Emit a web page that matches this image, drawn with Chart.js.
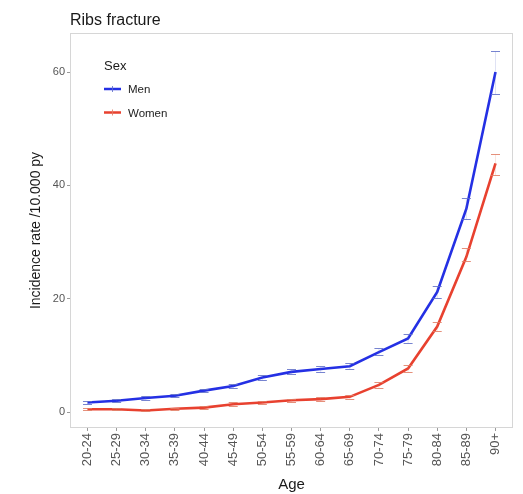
<!DOCTYPE html>
<html>
<head>
<meta charset="utf-8">
<script src="https://cdn.jsdelivr.net/npm/chart.js@4"></script>
<style>
  html, body { margin: 0; padding: 0; background: #fff; }
  canvas { display: block; }
</style>
</head>
<body>
<canvas id="chart" width="523" height="494"></canvas>
<script>
// Age bands and incidence rates per 10,000 person-years, with 95% CI bounds
const ageGroups = ['20-24', '25-29', '30-34', '35-39', '40-44', '45-49', '50-54',
                   '55-59', '60-64', '65-69', '70-74', '75-79', '80-84', '85-89', '90+'];

const menRate  = [1.7, 2.0, 2.5, 2.9, 3.8, 4.6, 6.1, 7.1, 7.6, 8.1, 10.6, 13.0, 21.2, 35.9, 60.0];
const menLower = [1.4, 1.7, 2.2, 2.6, 3.5, 4.2, 5.7, 6.7, 7.1, 7.6, 10.0, 12.2, 20.2, 34.1, 56.1];
const menUpper = [2.0, 2.3, 2.8, 3.2, 4.1, 5.0, 6.5, 7.6, 8.1, 8.6, 11.3, 13.8, 22.3, 37.8, 63.8];

const womenRate  = [0.5, 0.5, 0.3, 0.6, 0.8, 1.4, 1.7, 2.1, 2.3, 2.7, 4.8, 7.7, 15.1, 27.4, 43.9];
const womenLower = [0.3, 0.3, 0.2, 0.4, 0.6, 1.1, 1.4, 1.8, 2.0, 2.4, 4.3, 7.1, 14.4, 26.7, 41.8];
const womenUpper = [0.7, 0.7, 0.5, 0.8, 1.0, 1.7, 2.0, 2.4, 2.6, 3.0, 5.3, 8.3, 15.9, 28.9, 45.6];

const yTickValues = [0, 20, 40, 60];

const FONT = '"Liberation Sans", Arial, Helvetica, sans-serif';
const MEN_COLOR = '#2430e4';
const WOMEN_COLOR = '#e8412f';

const toPoints = values => values.map((v, i) => ({ x: i, y: v }));

// Confidence-interval caps with a faint vertical stem
const errorBars = {
  id: 'errorBars',
  afterDatasetsDraw(chart) {
    const { ctx, scales: { x, y } } = chart;
    chart.data.datasets.forEach(ds => {
      ctx.save();
      ctx.lineWidth = 1;
      ds.lower.forEach((lo, i) => {
        const px = x.getPixelForValue(i);
        const pLo = Math.round(y.getPixelForValue(lo)) + 0.5;
        const pHi = Math.round(y.getPixelForValue(ds.upper[i])) + 0.5;
        ctx.strokeStyle = ds.stemColor;
        ctx.beginPath();
        ctx.moveTo(px, pLo); ctx.lineTo(px, pHi);
        ctx.stroke();
        ctx.strokeStyle = ds.capColor;
        ctx.beginPath();
        ctx.moveTo(px - 4.5, pLo); ctx.lineTo(px + 4.5, pLo);
        ctx.moveTo(px - 4.5, pHi); ctx.lineTo(px + 4.5, pHi);
        ctx.stroke();
      });
      ctx.restore();
    });
  }
};

// Panel frame, plot title and the inset legend
const panel = {
  id: 'panel',
  beforeDraw(chart) {
    const { ctx, width, height } = chart;
    ctx.save();
    ctx.fillStyle = '#ffffff';
    ctx.fillRect(0, 0, width, height);
    ctx.restore();
  },
  beforeDatasetsDraw(chart) {
    const { ctx, chartArea: a } = chart;
    ctx.save();
    ctx.strokeStyle = '#d6d6d6';
    ctx.lineWidth = 1;
    ctx.strokeRect(a.left + 0.5, a.top + 0.5, a.right - a.left - 1, a.bottom - a.top - 1);
    ctx.restore();
  },
  afterDraw(chart) {
    const { ctx, chartArea: a } = chart;
    ctx.save();
    ctx.fillStyle = '#1a1a1a';
    ctx.textBaseline = 'alphabetic';
    ctx.textAlign = 'left';
    ctx.font = '16px ' + FONT;
    ctx.fillText('Ribs fracture', a.left, 25);

    // legend
    ctx.font = '13px ' + FONT;
    ctx.fillText('Sex', 104, 70);
    ctx.font = '11.5px ' + FONT;
    ctx.textBaseline = 'middle';
    chart.data.datasets.forEach((ds, i) => {
      const ly = 89 + i * 23.5;
      ctx.strokeStyle = ds.borderColor;
      ctx.lineWidth = 2.5;
      ctx.beginPath();
      ctx.moveTo(104, ly); ctx.lineTo(121, ly);
      ctx.stroke();
      ctx.strokeStyle = ds.capColor;
      ctx.lineWidth = 1;
      ctx.beginPath();
      ctx.moveTo(112.5, ly - 3); ctx.lineTo(112.5, ly + 3);
      ctx.stroke();
      ctx.fillStyle = '#222';
      ctx.fillText(ds.label, 128, ly + 1);
    });
    ctx.restore();
  }
};

const tickGrid = { drawOnChartArea: false, drawTicks: true, tickLength: 3, color: '#9a9a9a' };

new Chart(document.getElementById('chart'), {
  type: 'line',
  data: {
    datasets: [
      {
        label: 'Men',
        data: toPoints(menRate),
        lower: menLower,
        upper: menUpper,
        borderColor: MEN_COLOR,
        capColor: 'rgba(95, 110, 200, 0.85)',
        stemColor: 'rgba(95, 110, 200, 0.2)',
        borderWidth: 2.6,
        pointRadius: 0,
        tension: 0
      },
      {
        label: 'Women',
        data: toPoints(womenRate),
        lower: womenLower,
        upper: womenUpper,
        borderColor: WOMEN_COLOR,
        capColor: 'rgba(225, 125, 100, 0.85)',
        stemColor: 'rgba(225, 125, 100, 0.2)',
        borderWidth: 2.6,
        pointRadius: 0,
        tension: 0
      }
    ]
  },
  options: {
    responsive: false,
    animation: false,
    layout: { padding: { top: 33, right: 10, left: 0, bottom: 0 } },
    plugins: {
      legend: { display: false },
      tooltip: { enabled: false },
      title: { display: false }
    },
    scales: {
      x: {
        type: 'linear',
        min: -0.6,
        max: 14.6,
        afterBuildTicks: s => { s.ticks = ageGroups.map((_, i) => ({ value: i })); },
        afterFit: s => { s.height = 66; },
        grid: tickGrid,
        border: { display: false },
        ticks: {
          autoSkip: false,
          minRotation: 90,
          maxRotation: 90,
          padding: 2,
          color: '#555',
          font: { size: 13, family: FONT },
          callback: v => ageGroups[v]
        },
        title: {
          display: true,
          text: 'Age',
          color: '#1a1a1a',
          font: { size: 15, family: FONT },
          padding: { top: 0, bottom: 0 }
        }
      },
      y: {
        min: -2.8,
        max: 66.9,
        afterBuildTicks: s => { s.ticks = yTickValues.map(v => ({ value: v })); },
        afterFit: s => { s.width = 70; },
        grid: tickGrid,
        border: { display: false },
        ticks: {
          padding: 2,
          color: '#555',
          font: { size: 11, family: FONT }
        },
        title: {
          display: true,
          text: 'Incidence rate /10.000 py',
          color: '#1a1a1a',
          font: { size: 14, family: FONT },
          padding: { top: 28, bottom: 0 }
        }
      }
    }
  },
  plugins: [panel, errorBars]
});
</script>
</body>
</html>
